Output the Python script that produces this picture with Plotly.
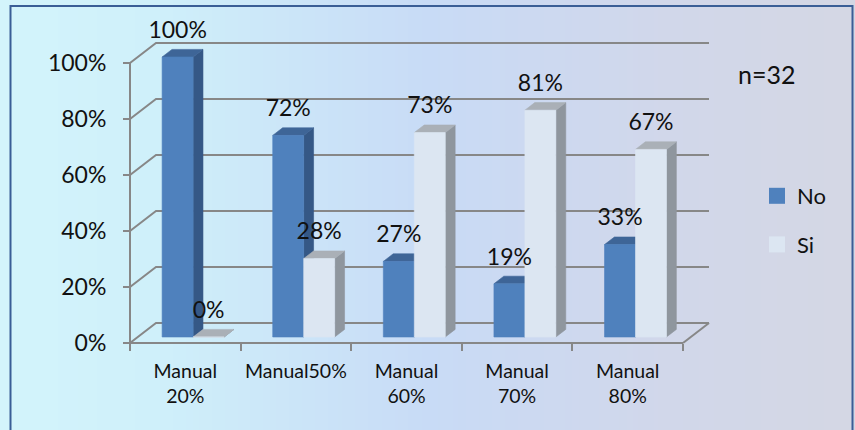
import numpy as np
import plotly.graph_objects as go

# ---- chart data -------------------------------------------------------------
categories = ["Manual<br>20%", "Manual50%", "Manual<br>60%", "Manual<br>70%", "Manual<br>80%"]
series_names = ["No", "Si"]
no_values = [100, 72, 27, 19, 33]
si_values = [0, 28, 73, 81, 67]
y_ticks = [0, 20, 40, 60, 80, 100]
y_tick_labels = ["0%", "20%", "40%", "60%", "80%", "100%"]
sample_note = "n=32"

# ---- styling ------------------------------------------------------------------
FONT = "Lato"
GRID = "#878787"
FACE = {
    "No": {"front": "#4F81BD", "side": "#355886", "top": "#3E6597"},
    "Si": {"front": "#DCE6F2", "side": "#8F969E", "top": "#AAB0B7"},
}

# ---- projection of the pseudo-3D box onto the page ---------------------------
W, H = 855, 430
X0_PX, XN_PX = 130, 683          # front floor edge, left and right
Y0_PX, Y100_PX = 343, 63         # front axis, 0% and 100%
ux = (XN_PX - X0_PX) / len(categories)
uy = (Y0_PX - Y100_PX) / 100.0
x_range = [-X0_PX / ux, (W - X0_PX) / ux]
y_range = [-(H - Y0_PX) / uy, Y0_PX / uy]

DX = 26 / ux                     # full depth of the box, along x
DY = 20 / uy                     # full depth of the box, along y
BAR_D0, BAR_D1 = 0.30, 0.68      # depth slab occupied by the bars
BAR_W = 0.28                     # bar width in category units
LABEL_GAP = 25 / uy              # data label height above the bar front top
NCAT = len(categories)


def depth(d):
    return DX * d, DY * d


def poly(xs, ys, color):
    return go.Scatter(
        x=xs, y=ys, mode="lines", fill="toself", fillcolor=color,
        line=dict(color=color, width=0.6), hoverinfo="skip", showlegend=False,
    )


fig = go.Figure()

# background wash
bx = np.linspace(x_range[0], x_range[1], 40)
by = np.array([y_range[0], y_range[1]])
bz = np.tile(np.linspace(0, 1, bx.size), (2, 1))
fig.add_trace(go.Heatmap(
    x=bx, y=by, z=bz, zsmooth="best", showscale=False, hoverinfo="skip",
    colorscale=[
        [0.00, "#D3F4FB"], [0.18, "#CFF0FA"], [0.36, "#CBE4F8"],
        [0.50, "#C8DBF6"], [0.62, "#CCD9F1"], [0.78, "#D1D7EA"],
        [1.00, "#D4D7E4"],
    ],
))

# walls: left-wall diagonals and back-wall gridlines
gx, gy = [], []
for t in y_ticks:
    gx += [0, DX, NCAT + DX, None]
    gy += [t, t + DY, t + DY, None]
# floor right edge and the front axis lines
gx += [NCAT, NCAT + DX, None, 0, 0, None, 0, NCAT]
gy += [0, DY, None, 0, y_ticks[-1], None, 0, 0]
fig.add_trace(go.Scatter(x=gx, y=gy, mode="lines", line=dict(color=GRID, width=2),
                         hoverinfo="skip", showlegend=False))

# bars drawn as front / side / top faces
dx0, dy0 = depth(BAR_D0)
dx1, dy1 = depth(BAR_D1)
lab_x, lab_y, lab_t = [], [], []
for i in range(NCAT):
    for s, (name, vals) in enumerate(zip(series_names, [no_values, si_values])):
        v = vals[i]
        xl = i + 0.5 + (s - 1) * BAR_W
        xr = xl + BAR_W
        c = FACE[name]
        fig.add_trace(poly([xr + dx0, xr + dx1, xr + dx1, xr + dx0, xr + dx0],
                           [dy0, dy1, v + dy1, v + dy0, dy0], c["side"]))
        fig.add_trace(poly([xl + dx0, xr + dx0, xr + dx1, xl + dx1, xl + dx0],
                           [v + dy0, v + dy0, v + dy1, v + dy1, v + dy0], c["top"]))
        fig.add_trace(poly([xl + dx0, xr + dx0, xr + dx0, xl + dx0, xl + dx0],
                           [dy0, dy0, v + dy0, v + dy0, dy0], c["front"]))
        lab_x.append((xl + xr) / 2 + dx0)
        lab_y.append(v + dy0 + LABEL_GAP)
        lab_t.append(f"{v}%")

# value labels
fig.add_trace(go.Scatter(
    x=lab_x, y=lab_y, text=lab_t, mode="text", textposition="middle center",
    textfont=dict(family=FONT, size=23, color="#111111"),
    hoverinfo="skip", showlegend=False, cliponaxis=False,
))

# legend entries
for name in series_names:
    fig.add_trace(go.Scatter(
        x=[None], y=[None], mode="markers", name=name, legendgroup=name,
        marker=dict(symbol="square", size=16, color=FACE[name]["front"]),
    ))

fig.update_layout(
    width=W, height=H,
    margin=dict(l=0, r=0, t=0, b=0),
    paper_bgcolor="#D0EEF9", plot_bgcolor="rgba(0,0,0,0)",
    showlegend=True,
    legend=dict(
        x=757 / W, xanchor="left", y=1 - 175 / H, yanchor="top",
        bgcolor="rgba(0,0,0,0)", traceorder="grouped", tracegroupgap=17,
        font=dict(family=FONT, size=22, color="#111111"),
    ),
    xaxis=dict(
        range=x_range, domain=[0, 1], showgrid=False, zeroline=False,
        showline=False, anchor="free", position=(H - Y0_PX) / H,
        tickmode="array", tickvals=[i + 0.5 for i in range(NCAT)], ticktext=categories,
        ticks="", tickfont=dict(family=FONT, size=19.5, color="#111111"),
        ticklabelstandoff=14,
        minor=dict(tickmode="array", tickvals=list(range(NCAT + 1)), ticks="outside",
                   ticklen=7, tickwidth=2, tickcolor=GRID, showgrid=False),
    ),
    yaxis=dict(
        range=y_range, domain=[0, 1], showgrid=False, zeroline=False,
        showline=False, anchor="free", position=X0_PX / W,
        tickmode="array", tickvals=y_ticks, ticktext=y_tick_labels,
        ticks="outside", ticklen=7, tickwidth=2, tickcolor=GRID,
        tickfont=dict(family=FONT, size=23, color="#111111"),
        ticklabelstandoff=12,
    ),
    annotations=[dict(
        text=sample_note, x=766 / W, y=1 - 74 / H, xref="paper", yref="paper",
        xanchor="center", yanchor="middle", showarrow=False,
        font=dict(family=FONT, size=25, color="#111111"),
    )],
    shapes=[dict(
        type="rect", xref="paper", yref="paper",
        x0=10.5 / W, x1=852.5 / W, y0=-0.02, y1=1 - 6 / H,
        line=dict(color="#3A5E96", width=2),
    )],
)

fig.write_html("out.html")
